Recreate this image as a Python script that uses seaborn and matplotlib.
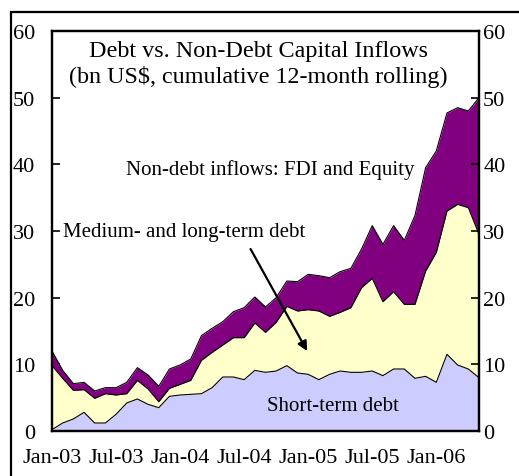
import numpy as np
import pandas as pd
import matplotlib
matplotlib.use("Agg")
import matplotlib.pyplot as plt
from matplotlib.patches import Rectangle
from matplotlib.ticker import MultipleLocator, FixedLocator
import seaborn as sns

# Monthly data, Jan-03 .. May-06 (bn US$, cumulative 12-month rolling)
short_term = [0.2, 1.2, 1.8, 2.8, 1.2, 1.2, 2.5, 4.2, 4.8, 4.0,
              3.5, 5.2, 5.4, 5.5, 5.6, 6.5, 8.1, 8.1, 7.7, 9.1,
              8.8, 9.0, 9.8, 8.7, 8.5, 7.7, 8.5, 9.0, 8.8, 8.8,
              9.0, 8.3, 9.3, 9.3, 7.9, 8.2, 7.3, 11.5, 9.9, 9.3,
              8.0]
medium_long = [9.6, 6.7, 4.3, 3.4, 3.7, 4.4, 2.9, 1.4, 2.8, 2.3,
               0.9, 1.2, 1.6, 2.1, 5.0, 5.3, 4.8, 5.9, 6.3, 7.1,
               6.0, 7.3, 8.9, 9.3, 9.7, 10.3, 8.7, 8.8, 9.7, 12.7,
               13.9, 11.1, 11.6, 9.7, 11.1, 15.8, 19.5, 21.5, 24.1, 24.2,
               21.5]
non_debt = [2.2, 1.2, 1.0, 1.1, 1.1, 0.9, 1.1, 1.7, 1.9, 2.1,
            2.3, 2.9, 2.9, 3.2, 3.7, 3.6, 3.5, 3.9, 4.5, 3.9,
            3.8, 3.7, 3.8, 4.4, 5.3, 5.3, 5.8, 6.1, 5.9, 5.8,
            7.9, 8.6, 9.9, 9.6, 13.3, 15.5, 15.2, 14.7, 14.5, 14.5,
            20.5]
tick_months = [0, 6, 12, 18, 24, 30, 36]
tick_labels = ["Jan-03", "Jul-03", "Jan-04", "Jul-04", "Jan-05", "Jul-05", "Jan-06"]
y_ticks = [0, 10, 20, 30, 40, 50, 60]

sns.set_theme(style="white")
plt.rcParams["font.family"] = ["Liberation Serif", "DejaVu Serif"]
plt.rcParams["text.color"] = "black"

month = np.arange(len(short_term))
lvl1 = np.array(short_term)
lvl2 = lvl1 + np.array(medium_long)
lvl3 = lvl2 + np.array(non_debt)
levels = pd.DataFrame({"month": month, "short": lvl1, "debt": lvl2, "total": lvl3})

fig = plt.figure(figsize=(5.19, 4.77), dpi=100)
W, H = 519, 477
ax = fig.add_axes([52 / W, 1 - 432 / H, 427 / W, 400 / H])

ax.fill_between(levels["month"], 0, levels["short"], color="#CCCCFF", lw=0)
ax.fill_between(levels["month"], levels["short"], levels["debt"], color="#FFFFCC", lw=0)
ax.fill_between(levels["month"], levels["debt"], levels["total"], color="#800080", lw=0)
for col in ["short", "debt", "total"]:
    sns.lineplot(data=levels, x="month", y=col, ax=ax, color="black", lw=0.8)

ax.set_xlim(0, 40)
ax.set_ylim(0, 60)
ax.set_xlabel("")
ax.set_ylabel("")
ax.xaxis.set_major_locator(FixedLocator(tick_months))
ax.set_xticklabels(tick_labels)
ax.xaxis.set_minor_locator(MultipleLocator(1.5))
ax.set_yticks(y_ticks)
ax.tick_params(axis="x", which="both", direction="in", length=5, width=1.2,
               pad=12, labelsize=16, bottom=True, colors="black")
ax.tick_params(axis="y", direction="in", length=6, width=1.2, pad=12,
               labelsize=16, left=True, colors="black")

ax2 = ax.twinx()
ax2.set_ylim(0, 60)
ax2.set_yticks(y_ticks)
ax2.tick_params(axis="y", direction="in", length=6, width=1.2, pad=3,
                labelsize=16, right=True, colors="black")
for a in (ax, ax2):
    for s in a.spines.values():
        s.set_color("black")
        s.set_linewidth(1.6)
        s.set_visible(True)

ax.text(19.3, 57.1, "Debt vs. Non-Debt Capital Inflows", ha="center", va="center",
        fontsize=17.4)
ax.text(19.3, 53.2, "(bn US$, cumulative 12-month rolling)", ha="center", va="center",
        fontsize=17.4)
ax.text(20.4, 39.3, "Non-debt inflows: FDI and Equity", ha="center", va="center",
        fontsize=15)
ax.text(12.4, 29.9, "Medium- and long-term debt", ha="center", va="center",
        fontsize=15)
ax.text(26.3, 3.8, "Short-term debt", ha="center", va="center", fontsize=15)
ax.annotate("", xy=(23.9, 12.0), xytext=(18.6, 27.3),
            arrowprops=dict(arrowstyle="-|>", color="black", lw=1.6,
                            mutation_scale=14, shrinkA=0, shrinkB=0))

fig.patches.append(Rectangle((11 / W, -0.1), 1.2, 1.1 - 13 / H,
                             transform=fig.transFigure, fill=False,
                             edgecolor="black", lw=1.6))

fig.savefig("out.png", dpi=100)
